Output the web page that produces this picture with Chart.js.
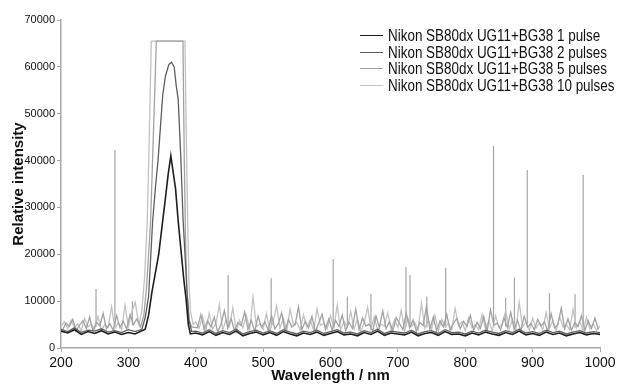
<!DOCTYPE html>
<html>
<head>
<meta charset="utf-8">
<script src="https://cdn.jsdelivr.net/npm/chart.js@4/dist/chart.umd.min.js"></script>
<style>
  html, body { margin: 0; padding: 0; background: #fff; }
  #wrap { position: relative; width: 619px; height: 386px; }
  #legend { position: absolute; left: 360px; top: 28px; font-family: 'Liberation Sans', Arial, sans-serif; font-size: 16px; color: #111; }
  #legend div { height: 16.5px; line-height: 16.5px; white-space: nowrap; }
  #legend span.ln { display: inline-block; width: 23px; height: 0; border-top: 1.5px solid; vertical-align: middle; margin-right: 5px; position: relative; top: -1px; }
  #legend span.tx { display: inline-block; transform: scaleX(0.84); transform-origin: 0 50%; }
</style>
</head>
<body>
<div id="wrap">
  <canvas id="chart" width="619" height="386"></canvas>
  <div id="legend"></div>
</div>
<script>
// series names
var seriesNames = ['Nikon SB80dx UG11+BG38 1 pulse', 'Nikon SB80dx UG11+BG38 2 pulses',
                   'Nikon SB80dx UG11+BG38 5 pulses', 'Nikon SB80dx UG11+BG38 10 pulses'];
var seriesColors = ['#1e1e1e', '#5e5e5e', '#a2a2a2', '#c2c2c2'];

var xTicks = [200, 300, 400, 500, 600, 700, 800, 900, 1000];
var yTicks = [0, 10000, 20000, 30000, 40000, 50000, 60000, 70000];

// 1 pulse (noise every 10 nm, peak read point by point)
var p1Left = [3600, 3200, 3900, 2900, 3500, 3100, 3700, 3000, 3400, 2900, 3300, 3000];
var p1PeakNm = [325, 330, 335, 340, 345, 350, 355, 359, 363, 366, 370, 374, 378, 382, 386, 389, 392];
var p1Peak = [4000, 7000, 12000, 16000, 20000, 26000, 32000, 37000, 41000, 38000, 34000, 27000, 21000, 15000, 10000, 5000, 3000];
var p1Right = [3200, 2800, 3500, 2700, 3300, 2900, 3600, 2600, 3100, 3400,
               2800, 3300, 2700, 3500, 3000, 2600, 3200, 2900, 3400, 2700,
               3100, 3500, 2800, 3000, 2600, 3300, 2900, 3600, 2700, 3200,
               3000, 2800, 3400, 2600, 3100, 3300, 2700, 3500, 2900, 3000,
               2600, 3200, 2800, 3400, 3000, 2700, 3300, 2900, 3600, 2800,
               3100, 2700, 3400, 2900, 3200, 2600, 3000, 3300, 2800, 3100,
               2900];

// 2 pulses
var p2Left = [4000, 3500, 4300, 3300, 3800, 3600, 4100, 3400, 3700, 3300, 3900, 3500];
var p2PeakNm = [320, 325, 330, 336, 340, 344, 348, 351, 355, 360, 364, 368, 371, 374, 378, 381, 384, 387, 390, 394];
var p2Peak = [4000, 6500, 11000, 27000, 34000, 40000, 48000, 54000, 58000, 60500, 61000, 60000, 56000, 53000, 40000, 28000, 20000, 12000, 6000, 3500];
var p2Right = [3600, 3200, 3900, 3100, 3700, 3300, 4000, 3000, 3500, 3800,
               3200, 3700, 3100, 3900, 3400, 3000, 3600, 3300, 3800, 3100,
               3500, 3900, 3200, 3400, 3000, 3700, 3300, 4000, 3100, 3600,
               3400, 3200, 3800, 3000, 3500, 3700, 3100, 3900, 3300, 3400,
               3000, 3600, 3200, 3800, 3400, 3100, 3700, 3300, 4000, 3200,
               3500, 3100, 3800, 3300, 3600, 3000, 3400, 3700, 3200, 3500,
               3300];

// 5 pulses (saturated, noise every 5 nm on the half-step)
var p5Left = [3900, 5300, 4600, 6100, 3700, 4900, 5800, 4200, 6600, 3600, 5500, 4700,
              7400, 4100, 5200, 3800, 6900, 4400, 5700, 4000, 7100, 5000, 6200];
var p5PeakNm = [318, 323, 327, 330, 333, 337, 341.5, 381, 383, 385, 387, 390, 394];
var p5Peak = [4500, 7000, 13000, 20000, 27000, 45000, 65500, 65500, 40000, 22000, 12000, 6000, 4500];
var p5Right = [4300, 7100, 3900, 5800, 4500, 6600, 3400, 5100, 8000, 4200, 6300, 3700, 5400, 4800, 7700, 4000, 5900, 3500, 6800, 4400,
               5600, 3800, 6900, 4100, 5200, 7500, 3600, 6100, 4500, 5000, 8800, 3900, 5700, 4300, 6700, 3500, 5300, 7200, 4000, 6200,
               3800, 5900, 4600, 7000, 3700, 5500, 4200, 8300, 3900, 6400, 4700, 5100, 3600, 6800, 4400, 7900, 4100, 5600, 3700, 6500,
               5200, 3900, 7400, 4300, 6000, 3600, 5400, 4800, 8900, 4000, 6600, 3700, 5800, 4500, 7200, 3800, 5300, 6300, 4100, 5700,
               4600, 7000, 3800, 5500, 4200, 6700, 3600, 8100, 4900, 5300, 3900, 6400, 4400, 7600, 4000, 5900, 3700, 6800, 4500, 5200,
               3900, 6100, 4700, 5600, 3600, 7300, 4300, 5000, 8500, 4100, 6200, 3800, 5400, 4600, 6900, 3700, 5800, 4200, 6400, 4000];

// 10 pulses (saturated, noise every 5 nm)
var p10Left = [4600, 5600, 4100, 5900, 4300, 5200, 3700, 6300, 4500, 5100, 4000, 6700,
               3800, 5000, 4400, 8800, 4200, 5400, 3900, 9200, 4600, 7600, 9800, 5600];
var p10PeakNm = [316, 320, 324, 328, 331, 334, 384, 386, 388, 390, 392, 396];
var p10Peak = [5000, 8000, 15000, 27000, 45000, 65500, 65500, 45000, 27000, 14000, 8000, 5000];
var p10Right = [5600, 4200, 6800, 3600, 7400, 4100, 5300, 9200, 3800, 6100, 4700, 8600, 3500, 5900, 4300, 7000, 3900, 10900, 4600, 5200,
                4000, 7300, 3700, 5600, 9000, 4200, 6400, 3600, 8300, 4900, 5500, 3800, 7100, 4400, 6000, 3700, 8400, 4800, 5300, 4100,
                6900, 4300, 9100, 3900, 5700, 4500, 7800, 4000, 6200, 3600, 5400, 8700, 4100, 6600, 3800, 5100, 4700, 7500, 3900, 6000,
                4400, 8100, 3700, 6300, 4600, 5500, 3800, 9600, 4200, 5900, 4000, 7000, 3600, 6100, 4500, 5300, 3900, 8400, 4800, 5600,
                3700, 6400, 4300, 5000, 3900, 7200, 4100, 5800, 3600, 6900, 4400, 5200, 7900, 4000, 6100, 3800, 9800, 4500, 5500, 3900,
                6300, 4200, 5400, 3800, 7600, 4100, 5900, 3700, 6700, 4500, 5000, 3900, 8200, 4300, 5700, 3600, 6500, 4000, 5200, 3800,
                4700];

// narrow emission spikes
var spikeNm = [252, 280, 306, 448, 512, 604, 625, 660, 712, 718, 743, 771, 842, 860, 873, 892, 925, 963, 975];
var spikeTop = [12600, 42200, 10000, 15600, 14900, 19000, 11000, 11500, 17300, 15600, 11000, 17100, 43100, 10700, 15100, 38000, 11700, 11500, 36900];
var spikeBase = [4500, 4500, 4800, 4300, 4400, 4500, 4400, 4300, 4500, 4500, 4400, 4300, 4400, 4600, 4500, 4400, 4500, 4300, 4400];

function range(a, b, step) {
    var out = [];
    for (var v = a; v <= b + 1e-9; v += step) out.push(v);
    return out;
}

function buildSeries(leftNm, left, peakNm, peak, rightNm, right) {
    var pts = [], i;
    for (i = 0; i < left.length; i++) pts.push({x: leftNm[i], y: left[i]});
    for (i = 0; i < peak.length; i++) pts.push({x: peakNm[i], y: peak[i]});
    for (i = 0; i < right.length; i++) pts.push({x: rightNm[i], y: right[i]});
    return pts;
}

var nm10Left = range(200, 310, 10), nm10Right = range(400, 1000, 10);
var nm5Left = range(200, 315, 5), nm5Right = range(400, 1000, 5);
var nmHalfLeft = range(202.5, 312.5, 5), nmHalfRight = range(402.5, 997.5, 5);

var spikePts = [];
for (var s = 0; s < spikeNm.length; s++) {
    spikePts.push({x: spikeNm[s], y: spikeBase[s]});
    spikePts.push({x: spikeNm[s], y: spikeTop[s]});
    spikePts.push({x: spikeNm[s], y: spikeBase[s]});
    spikePts.push({x: spikeNm[s], y: null});
}

var seriesData = [
    buildSeries(nm10Left, p1Left, p1PeakNm, p1Peak, nm10Right, p1Right),
    buildSeries(nm10Left, p2Left, p2PeakNm, p2Peak, nm10Right, p2Right),
    buildSeries(nmHalfLeft, p5Left, p5PeakNm, p5Peak, nmHalfRight, p5Right),
    buildSeries(nm5Left, p10Left, p10PeakNm, p10Peak, nm5Right, p10Right)
];
var widths = [1.6, 1.3, 1.3, 1.3];

var datasets = [];
for (var k = 0; k < seriesData.length; k++) {
    datasets.push({
        label: seriesNames[k],
        data: seriesData[k],
        borderColor: seriesColors[k],
        backgroundColor: seriesColors[k],
        borderWidth: widths[k],
        pointRadius: 0,
        tension: 0,
        fill: false
    });
}
datasets.push({
    label: 'spikes',
    data: spikePts,
    borderColor: '#a6a6a6',
    borderWidth: 1.2,
    pointRadius: 0,
    spanGaps: false,
    fill: false
});

// html legend
var legendHtml = '';
for (var j = 0; j < seriesNames.length; j++) {
    legendHtml += '<div><span class="ln" style="border-color:' + seriesColors[j] + '"></span><span class="tx">' + seriesNames[j] + '</span></div>';
}
document.getElementById('legend').innerHTML = legendHtml;

var sans = "'Liberation Sans', Arial, sans-serif";
var axisGray = '#a8a8a8';

new Chart(document.getElementById('chart').getContext('2d'), {
    type: 'line',
    data: { datasets: datasets },
    options: {
        responsive: false,
        animation: false,
        layout: { padding: { top: 20, right: 19, left: 0, bottom: 0 } },
        plugins: { legend: { display: false }, tooltip: { enabled: false } },
        scales: {
            x: {
                type: 'linear',
                min: 200, max: 1000,
                afterFit: function (sc) { sc.height = 38; },
                afterBuildTicks: function (sc) { sc.ticks = xTicks.map(function (v) { return {value: v}; }); },
                border: { color: axisGray, width: 1.5 },
                grid: { display: true, drawOnChartArea: false, tickLength: 4, color: axisGray },
                ticks: { padding: 3, maxRotation: 0, color: '#111', font: { family: sans, size: 14 },
                         callback: function (v) { return String(v); } },
                title: { display: true, text: 'Wavelength / nm', color: '#111', padding: { top: 0, bottom: 1 },
                         font: { family: sans, size: 15, weight: 'bold' } }
            },
            y: {
                min: 0, max: 70000,
                afterFit: function (sc) { sc.width = 61; },
                afterBuildTicks: function (sc) { sc.ticks = yTicks.map(function (v) { return {value: v}; }); },
                border: { color: axisGray, width: 1.5 },
                grid: { display: true, drawOnChartArea: false, tickLength: 4, color: axisGray },
                ticks: { padding: 2, color: '#111', font: { family: sans, size: 11 },
                         callback: function (v) { return String(v); } },
                title: { display: true, text: 'Relative intensity', color: '#111', padding: { top: 10, bottom: 0 },
                         font: { family: sans, size: 15, weight: 'bold' } }
            }
        }
    }
});
</script>
</body>
</html>
